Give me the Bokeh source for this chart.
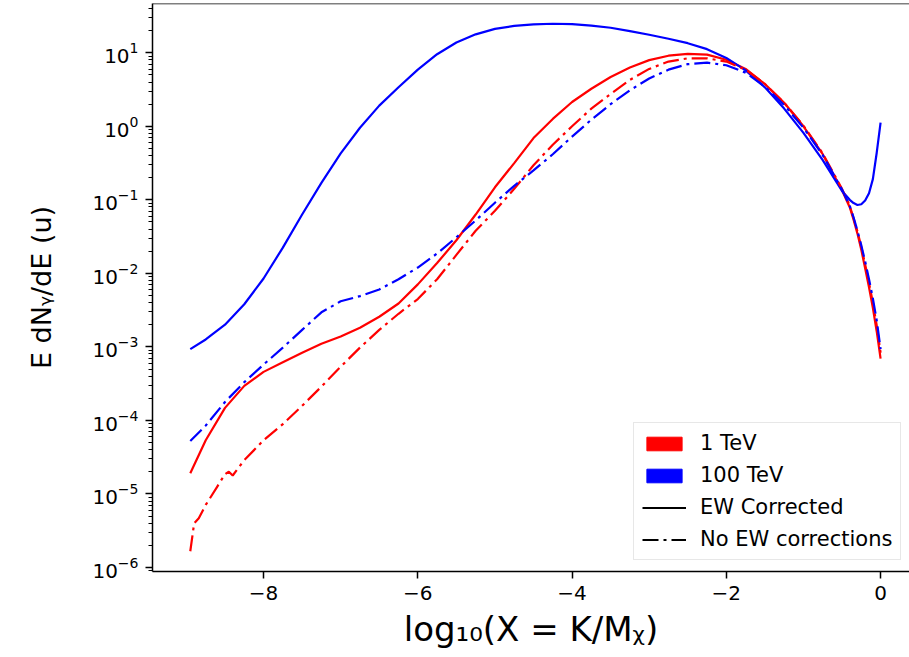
from bokeh.plotting import figure
from bokeh.models import (Legend, LegendItem, FixedTicker, Span,
                          CustomJSTickFormatter, LogTickFormatter)
from bokeh.embed import file_html
from bokeh.resources import INLINE

NAN = float("nan")

# ---------------- data ----------------
X = [-8.95, -8.75, -8.5, -8.25, -8.0, -7.75, -7.5, -7.25, -7.0, -6.75,
     -6.5, -6.25, -6.0, -5.75, -5.5, -5.25, -5.0, -4.75, -4.5, -4.25,
     -4.0, -3.75, -3.5, -3.25, -3.0, -2.75, -2.5, -2.25, -2.0, -1.75,
     -1.5, -1.25, -1.0, -0.75, -0.5, -0.4, -0.35, -0.3, -0.25, -0.2,
     -0.15, -0.1, -0.05, 0.0]

# 1 TeV, EW corrected (red solid)
tev1_ew = [1.91e-5, 5.37e-5, 1.48e-4, 2.95e-4, 4.57e-4, 6.17e-4, 8.32e-4, 1.10e-3, 1.38e-3, 1.82e-3,
           2.57e-3, 3.89e-3, 7.08e-3, 1.38e-2, 2.82e-2, 6.31e-2, 0.148, 0.316, 0.692, 1.26,
           2.14, 3.24, 4.68, 6.31, 7.94, 9.12, 9.66, 9.44, 8.04, 6.03,
           3.76, 2.09, 1.00, 0.417, 0.135, 0.0794, 0.0537, 0.0347, 0.0209, 0.0117,
           6.46e-3, 3.39e-3, 1.62e-3, 6.92e-4]

# 100 TeV, EW corrected (blue solid)
tev100_ew = [9.33e-4, 1.26e-3, 2.00e-3, 3.80e-3, 8.51e-3, 2.24e-2, 6.31e-2, 0.170, 0.427, 0.955,
             1.91, 3.39, 5.89, 9.55, 13.8, 17.8, 21.1, 23.2, 24.3, 24.8,
             24.5, 23.4, 21.9, 19.7, 17.6, 15.5, 13.5, 11.2, 8.51, 5.75,
             3.39, 1.74, 0.813, 0.347, 0.132, 0.100, 0.0902, 0.0851, 0.0871, 0.0977,
             0.123, 0.191, 0.437, 1.12]

# 100 TeV, no EW corrections (blue dash-dot)
tev100_noew = [5.25e-5, 8.51e-5, 1.78e-4, 3.31e-4, 5.75e-4, 9.77e-4, 1.70e-3, 2.95e-3, 4.17e-3, 4.90e-3,
               6.03e-3, 8.32e-3, 1.20e-2, 1.86e-2, 3.09e-2, 5.25e-2, 9.12e-2, 0.155, 0.251, 0.417,
               0.724, 1.23, 2.00, 3.09, 4.47, 5.89, 7.00, 7.33, 6.76, 5.37,
               3.47, 1.95, 0.955, 0.407, 0.138, 0.0832, 0.0575, 0.0380, 0.0240, 0.0145,
               8.32e-3, 4.57e-3, 2.29e-3, 9.33e-4]

# 1 TeV, no EW corrections (red dash-dot)
X_RD = [-8.95, -8.9, -8.84, -8.75, -8.6, -8.5, -8.45, -8.4, -8.25, -8.0,
        -7.75, -7.5, -7.25, -7.0, -6.75, -6.5, -6.25, -6.0, -5.75, -5.5,
        -5.25, -5.0, -4.75, -4.5, -4.25, -4.0, -3.75, -3.5, -3.25, -3.0,
        -2.75, -2.5, -2.25, -2.0, -1.75, -1.5, -1.25, -1.0, -0.75, -0.5,
        -0.4, -0.35, -0.3, -0.25, -0.2, -0.15, -0.1, -0.05, 0.0]
tev1_noew = [1.66e-6, 3.98e-6, 4.68e-6, 7.08e-6, 1.26e-5, 1.86e-5, 2.00e-5, 1.78e-5, 2.88e-5, 5.37e-5,
             8.91e-5, 1.58e-4, 2.88e-4, 5.37e-4, 9.77e-4, 1.70e-3, 2.82e-3, 4.47e-3, 8.32e-3, 1.78e-2,
             3.80e-2, 7.08e-2, 0.141, 0.295, 0.562, 1.00, 1.74, 2.75, 4.27, 6.03,
             7.59, 8.41, 8.41, 7.59, 5.89, 3.76, 2.09, 1.02, 0.427, 0.141,
             0.0832, 0.0562, 0.0372, 0.0229, 0.0132, 7.41e-3, 3.98e-3, 1.95e-3, 8.32e-4]

X_TICKS = [-8, -6, -4, -2, 0]
Y_TICKS = [1e-6, 1e-5, 1e-4, 1e-3, 1e-2, 1e-1, 1e0, 1e1]
LEGEND_LABELS = ["1 TeV", "100 TeV", "EW Corrected", "No EW corrections"]
X_LABEL = "log\u2081\u2080(X = K/M\u1d6a)"
Y_LABEL = "E dN\u1d67/dE (u)"

# ---------------- figure ----------------
Y_LO, Y_HI = 10 ** -6.055, 10 ** 1.67
p = figure(width=909, height=657, y_axis_type="log",
           x_range=(-9.44, 0.375), y_range=(Y_LO, Y_HI),
           output_backend="svg", toolbar_location=None,
           min_border_left=152, min_border_right=0,
           min_border_top=3, min_border_bottom=86)
p.grid.visible = False
p.outline_line_color = None
p.background_fill_color = "white"
p.border_fill_color = "white"

LW = 2.2
DASHDOT = "16 5 3 5"
p.line(X, tev1_ew, line_color="red", line_width=LW)
p.line(X, tev100_ew, line_color="blue", line_width=LW)
p.line(X_RD, tev1_noew, line_color="red", line_width=LW, line_dash=DASHDOT)
p.line(X, tev100_noew, line_color="blue", line_width=LW, line_dash=DASHDOT)

# top spine
p.add_layout(Span(location=Y_HI, dimension="width", line_color="black", line_width=1.5))

# axes styling
for ax in (p.xaxis[0], p.yaxis[0]):
    ax.axis_line_width = 1.5
    ax.axis_line_color = "black"
    ax.major_tick_line_width = 1.5
    ax.major_tick_line_color = "black"
    ax.major_tick_out = 7
    ax.major_tick_in = 0
    ax.major_label_standoff = 7
    ax.major_label_text_font = "DejaVu Sans"
    ax.major_label_text_font_size = "20px"
    ax.major_label_text_color = "black"
    ax.axis_label_text_font = "DejaVu Sans"
    ax.axis_label_text_font_style = "normal"
    ax.axis_label_text_color = "black"

p.xaxis.ticker = FixedTicker(ticks=X_TICKS)
p.xaxis.minor_tick_line_color = None
p.xaxis.formatter = CustomJSTickFormatter(
    code="return (tick < 0 ? '\u2212' : '') + Math.abs(tick).toFixed(0);")
p.xaxis.axis_label = X_LABEL
p.xaxis.axis_label_text_font_size = "34px"
p.xaxis.axis_label_standoff = 6

minor = [k * 10.0 ** e for e in range(-7, 2) for k in range(2, 10)]
p.yaxis.ticker = FixedTicker(ticks=Y_TICKS, minor_ticks=minor)
p.yaxis.formatter = LogTickFormatter()
p.yaxis.minor_tick_out = 4
p.yaxis.minor_tick_in = 0
p.yaxis.minor_tick_line_width = 1.2
p.yaxis.minor_tick_line_color = "black"
p.yaxis.axis_label = Y_LABEL
p.yaxis.axis_label_text_font_size = "27px"
p.yaxis.axis_label_standoff = 32

# ---------------- legend ----------------
r_red = p.quad(left=[NAN], right=[NAN], top=[NAN], bottom=[NAN],
               fill_color="red", line_color="red")
r_blue = p.quad(left=[NAN], right=[NAN], top=[NAN], bottom=[NAN],
                fill_color="blue", line_color="blue")
r_solid = p.line(x=[NAN], y=[NAN], line_color="black", line_width=LW)
r_dd = p.line(x=[NAN], y=[NAN], line_color="black", line_width=LW, line_dash=DASHDOT)

legend = Legend(items=[LegendItem(label=LEGEND_LABELS[0], renderers=[r_red]),
                       LegendItem(label=LEGEND_LABELS[1], renderers=[r_blue]),
                       LegendItem(label=LEGEND_LABELS[2], renderers=[r_solid]),
                       LegendItem(label=LEGEND_LABELS[3], renderers=[r_dd])],
                location=(481, 11), margin=0, padding=8, spacing=8,
                glyph_width=44, glyph_height=17, label_height=24, label_standoff=14,
                label_text_font="DejaVu Sans", label_text_font_size="21px",
                label_text_color="black",
                border_line_color="#d0d0d0", border_line_width=1,
                background_fill_color="white", background_fill_alpha=0.8)
p.add_layout(legend)

open("out.html", "w").write(file_html(p, INLINE))
